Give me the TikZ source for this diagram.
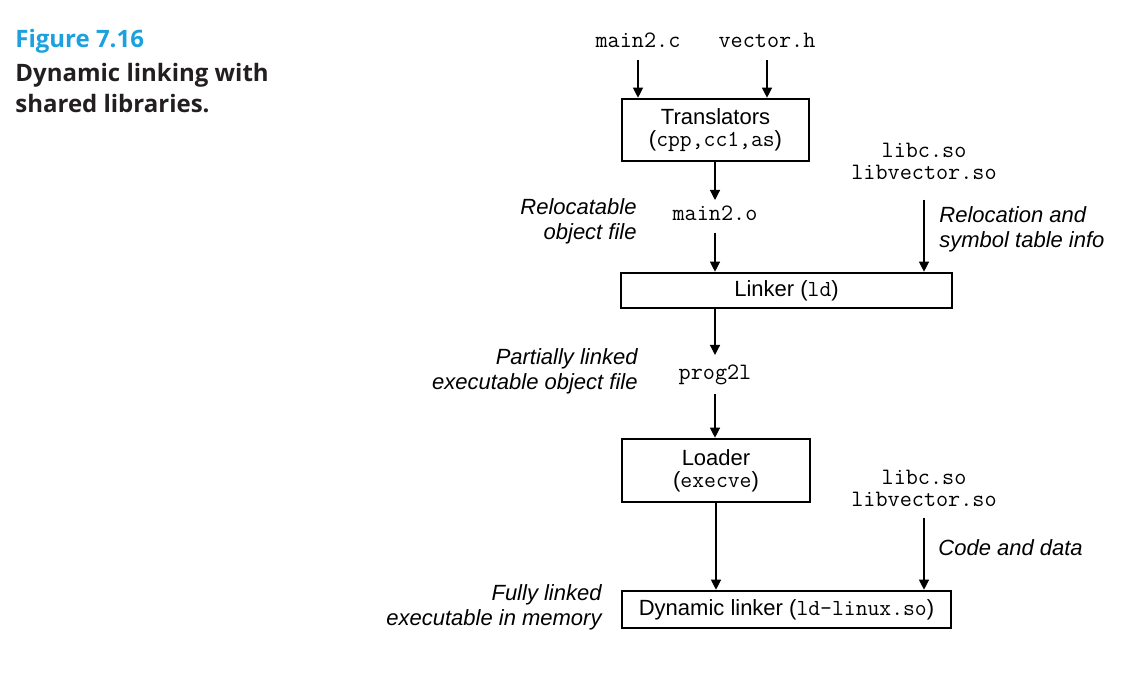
\documentclass[tikz,border=0pt]{standalone}
\usepackage{fontspec}
\setmainfont{Liberation Sans}
\newfontfamily\capfont{Open Sans}
\usetikzlibrary{positioning, arrows.meta}
\definecolor{figblue}{RGB}{27,161,222}
\definecolor{capblack}{RGB}{35,31,32}
\newcommand{\fname}[1]{{\fontsize{11.5}{11}\selectfont\ttfamily #1}}

\begin{document}
\begin{tikzpicture}[x=0.5pt, y=-0.5pt,
    box/.style={draw, line width=1.3pt, align=center, inner sep=0pt, font=\fontsize{11}{11}\selectfont},
    file/.style={font=\fontsize{11.75}{11}\selectfont\ttfamily, align=center, inner sep=0pt},
    note/.style={font=\fontsize{11}{12.5}\selectfont\itshape, inner sep=0pt},
    arr/.style={-{Triangle[length=5pt, width=5pt]}, line width=0.6pt}]
        \useasboundingbox (0,0) rectangle (1136,678);

        % caption
        \node[font=\capfont\bfseries\fontsize{12}{15.5}\selectfont, text=figblue, anchor=base west, inner sep=0pt] (fignum) at (15,48) {Figure 7.16};
        \node[font=\capfont\bfseries\fontsize{12}{15.5}\selectfont, text=capblack, align=left, anchor=base west, inner sep=0pt] (figcap) at (15,113) {Dynamic linking with\\shared libraries.};

        % boxes
        \node[box, minimum width=93.5pt, minimum height=31pt] (trans)  at (715.5,130)   {Translators\\(\fname{cpp,cc1,as})};
        \node[box, minimum width=165.5pt, minimum height=17.5pt] (linker) at (786.5,290.5) {Linker (\fname{ld})};
        \node[box, minimum width=94pt, minimum height=31.5pt] (loader) at (716,470.5)   {Loader\\(\fname{execve})};
        \node[box, minimum width=164.5pt, minimum height=18.5pt] (dyn)    at (786.5,609.5) {Dynamic linker (\fname{ld-linux.so})};

        % files
        \node[file, anchor=base] (mainc) at (638,48)  {main2.c};
        \node[file, anchor=base] (vech)  at (767,48)  {vector.h};
        \node[file, anchor=base] (maino) at (715,221) {main2.o};
        \node[file, anchor=base] (prog)  at (715,380) {prog2l};
        \node[file, anchor=base] (libs)  at (924,180) {libc.so\\libvector.so};  %top libs
        \node[file, anchor=base] (libsb) at (924,507) {libc.so\\libvector.so};  %bottom libs

        % notes
        \node[note, align=right, anchor=base east] (reloc)    at (637,240) {Relocatable\\object file};
        \node[note, align=left,  anchor=base west] (symtab)   at (939,248) {Relocation and\\symbol table info};
        \node[note, align=right, anchor=base east] (partial)  at (638,390) {Partially linked\\executable object file};
        \node[note, align=left,  anchor=base west] (codedata) at (938,556) {Code and data};
        \node[note, align=right, anchor=base east] (full)     at (602,625) {Fully linked\\executable in memory};

        % arrows
        \draw[arr] ([yshift=-6pt]mainc.base) -- (trans.north -| mainc.base);
        \draw[arr] ([yshift=-6pt]vech.base)  -- (trans.north -| vech.base);
        \draw[arr] (trans.south -| maino.base) -- ([yshift=10.5pt]maino.base);
        \draw[arr] ([yshift=-6pt]maino.base) -- (linker.north -| maino.base);
        \draw[arr] ([yshift=-9.5pt]libs.south) -- (linker.north -| libs.south);
        \draw[arr] (linker.south -| prog.base) -- ([yshift=12.5pt]prog.base);
        \draw[arr] ([yshift=-7pt]prog.base) -- (loader.north -| prog.base);
        \draw[arr] (loader.south) -- (dyn.north -| loader.south);
        \draw[arr] ([yshift=-5pt]libsb.south) -- (dyn.north -| libsb.south);
\end{tikzpicture}
\end{document}
